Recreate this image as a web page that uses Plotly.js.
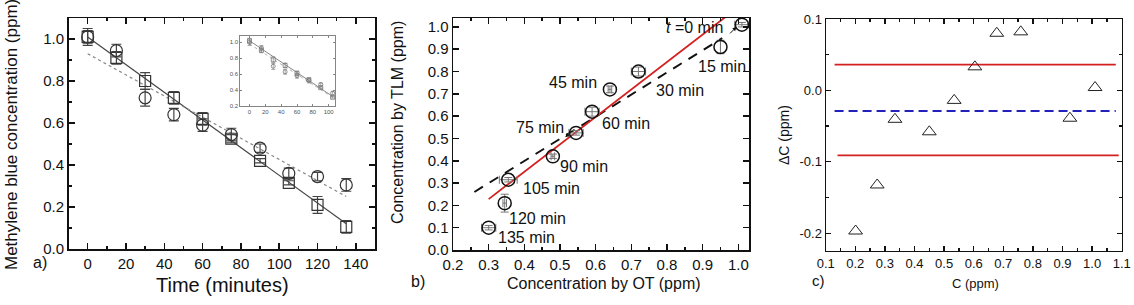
<!DOCTYPE html>
<html>
<head>
<meta charset="utf-8">
<script src="https://cdn.plot.ly/plotly-3.0.1.min.js"></script>
<style>html,body{margin:0;padding:0;background:#fff;}#chart{width:1134px;height:305px;}</style>
</head>
<body>
<div id="chart"></div>
<script>
// ---------- Panel a: concentration vs time ----------
const timeMin = [0, 15, 30, 45, 60, 75, 90, 105, 120, 135];
const otConc  = [1.01, 0.945, 0.72, 0.64, 0.59, 0.545, 0.48, 0.36, 0.345, 0.305];
const otErr   = [0.04, 0.03, 0.04, 0.03, 0.03, 0.03, 0.02, 0.025, 0.02, 0.03];
const tlmConc = [1.01, 0.91, 0.80, 0.72, 0.62, 0.525, 0.42, 0.315, 0.21, 0.105];
const tlmErr  = [0.03, 0.03, 0.04, 0.03, 0.03, 0.02, 0.01, 0.01, 0.04, 0.03];
const fitTime = [0, 135];
const tlmFit  = [1.01, 0.12];
const otFit   = [0.93, 0.25];

// inset of panel a
const insetTime = [0, 15, 30, 45, 60, 75, 90, 105];
const insetOt   = [1.0, 0.93, 0.70, 0.63, 0.58, 0.52, 0.47, 0.36];
const insetTlm  = [1.02, 0.90, 0.78, 0.71, 0.61, 0.53, 0.43, 0.31];
const insetFitT = [0, 105];
const insetFitA = [1.02, 0.32];
const insetFitB = [0.98, 0.31];

// ---------- Panel b: TLM vs OT ----------
const bOt      = [1.01, 0.95, 0.72, 0.64, 0.59, 0.545, 0.48, 0.355, 0.345, 0.30];
const bOtErr   = [0.02, 0.0, 0.02, 0.005, 0.02, 0.02, 0.005, 0.025, 0.005, 0.02];
const bTlm     = [1.01, 0.91, 0.80, 0.72, 0.62, 0.525, 0.42, 0.315, 0.21, 0.10];
const bTlmErr  = [0.01, 0.03, 0.02, 0.015, 0.02, 0.01, 0.01, 0.01, 0.04, 0.01];
const bLabels  = ["<i>t</i> =0 min", "15 min", "30 min", "45 min", "60 min", "75 min", "90 min", "105 min", "120 min", "135 min"];
const bLabelX  = [0.878, 0.955, 0.836, 0.536, 0.685, 0.445, 0.568, 0.476, 0.436, 0.405];
const bLabelY  = [0.996, 0.822, 0.714, 0.75, 0.565, 0.548, 0.374, 0.277, 0.139, 0.054];
const redFitX  = [0.30, 0.975];
const redFitY  = [0.228, 1.058];
const dashX    = [0.26, 0.955];
const dashY    = [0.26, 0.95];

// ---------- Panel c: difference plot ----------
const cC     = [0.201, 0.274, 0.334, 0.45, 0.534, 0.604, 0.678, 0.759, 0.925, 1.01];
const cDelta = [-0.197, -0.1325, -0.0405, -0.058, -0.014, 0.033, 0.080, 0.082, -0.039, 0.004];
const upperLoA = 0.036, meanDiff = -0.029, lowerLoA = -0.091;
const upperX = [0.13, 1.08], meanX = [0.13, 1.08], lowerX = [0.14, 1.09];
const cYTicks = [-0.2, -0.1, 0.0, 0.1];
const cYTickText = ["-0.2", "-0.1", "0.0", "0.1"];

const W = 1134, H = 305;
const px = v => v / W, py = v => 1 - v / H;
const FONT = 'Liberation Sans, Arial, sans-serif';

function axis(opts) {
  return Object.assign({
    showline: true, linecolor: '#111', linewidth: 1.5, mirror: 'ticks',
    ticks: 'inside', ticklen: 6, tickwidth: 1.5, tickcolor: '#111',
    showgrid: false, zeroline: false, fixedrange: true,
    tickfont: {family: FONT, size: 15, color: '#111'}
  }, opts);
}

const traces = [
  // panel a
  {x: fitTime, y: tlmFit, xaxis: 'x', yaxis: 'y', mode: 'lines', line: {color: '#444', width: 1.2}, hoverinfo: 'skip'},
  {x: fitTime, y: otFit, xaxis: 'x', yaxis: 'y', mode: 'lines', line: {color: '#888', width: 1.2, dash: 'dot'}, hoverinfo: 'skip'},
  {x: timeMin, y: tlmConc, xaxis: 'x', yaxis: 'y', mode: 'markers',
   marker: {symbol: 'square-open', size: 11, color: '#333', line: {width: 1.2}},
   error_y: {type: 'data', array: tlmErr, visible: true, color: '#444', thickness: 1.2, width: 5}},
  {x: timeMin, y: otConc, xaxis: 'x', yaxis: 'y', mode: 'markers',
   marker: {symbol: 'circle-open', size: 12, color: '#333', line: {width: 1.2}},
   error_y: {type: 'data', array: otErr, visible: true, color: '#444', thickness: 1.2, width: 5}},
  // inset
  {x: insetFitT, y: insetFitA, xaxis: 'x4', yaxis: 'y4', mode: 'lines', line: {color: '#666', width: 0.8}, hoverinfo: 'skip'},
  {x: insetFitT, y: insetFitB, xaxis: 'x4', yaxis: 'y4', mode: 'lines', line: {color: '#999', width: 0.8, dash: 'dot'}, hoverinfo: 'skip'},
  {x: insetTime, y: insetTlm, xaxis: 'x4', yaxis: 'y4', mode: 'markers',
   marker: {symbol: 'square-open', size: 4, color: '#777', line: {width: 0.8}},
   error_y: {type: 'data', array: tlmErr.slice(0, 8), visible: true, color: '#888', thickness: 0.7, width: 2}},
  {x: insetTime, y: insetOt, xaxis: 'x4', yaxis: 'y4', mode: 'markers',
   marker: {symbol: 'circle-open', size: 4, color: '#777', line: {width: 0.8}},
   error_y: {type: 'data', array: otErr.slice(0, 8), visible: true, color: '#888', thickness: 0.7, width: 2}},
  // panel b
  {x: dashX, y: dashY, xaxis: 'x2', yaxis: 'y2', mode: 'lines', line: {color: '#111', width: 2, dash: '10px,8px'}, hoverinfo: 'skip'},
  {x: redFitX, y: redFitY, xaxis: 'x2', yaxis: 'y2', mode: 'lines', line: {color: '#d42020', width: 1.8}, hoverinfo: 'skip'},
  {x: bOt, y: bTlm, xaxis: 'x2', yaxis: 'y2', mode: 'markers',
   marker: {symbol: 'circle-open', size: 13, color: '#111', line: {width: 1.5}},
   error_x: {type: 'data', array: bOtErr, visible: true, color: '#777', thickness: 1, width: 4},
   error_y: {type: 'data', array: bTlmErr, visible: true, color: '#777', thickness: 1, width: 4}},
  // panel c
  {x: upperX, y: [upperLoA, upperLoA], xaxis: 'x3', yaxis: 'y3', mode: 'lines', line: {color: '#d42020', width: 1.8}, hoverinfo: 'skip'},
  {x: lowerX, y: [lowerLoA, lowerLoA], xaxis: 'x3', yaxis: 'y3', mode: 'lines', line: {color: '#d42020', width: 1.8}, hoverinfo: 'skip'},
  {x: meanX, y: [meanDiff, meanDiff], xaxis: 'x3', yaxis: 'y3', mode: 'lines', line: {color: '#2222bb', width: 2, dash: '9px,5px'}, hoverinfo: 'skip'},
  {x: cC, y: cDelta, xaxis: 'x3', yaxis: 'y3', mode: 'markers',
   marker: {symbol: 'triangle-up-open', size: 12, color: '#222', line: {width: 1}}}
];

const annotations = [];
bLabels.forEach((t, i) => {
  annotations.push({xref: 'x2', yref: 'y2', x: bLabelX[i], y: bLabelY[i], text: t, showarrow: false,
    font: {family: FONT, size: 16, color: '#111'}, xanchor: 'center', yanchor: 'middle'});
});
// small arrows in panel b
annotations.push({xref: 'x2', yref: 'y2', x: 0.995, y: 1.0, ax: -8, ay: 8, text: '', showarrow: true,
  arrowhead: 2, arrowsize: 0.8, arrowwidth: 1, arrowcolor: '#111'});
annotations.push({xref: 'x2', yref: 'y2', x: 0.515, y: 0.505, ax: 8, ay: -8, text: '', showarrow: true,
  arrowhead: 2, arrowsize: 0.8, arrowwidth: 1, arrowcolor: '#111'});

// axis titles and panel letters (paper coordinates)
const paperText = [
  {x: 222, y: 285, text: 'Time (minutes)', size: 20},
  {x: 11, y: 135, text: 'Methylene blue concentration (ppm)', size: 17, rot: -90},
  {x: 40, y: 262, text: 'a)', size: 16},
  {x: 604, y: 283, text: 'Concentration by OT (ppm)', size: 16},
  {x: 397, y: 123, text: 'Concentration by TLM (ppm)', size: 16, rot: -90},
  {x: 418, y: 281, text: 'b)', size: 16},
  {x: 975, y: 283, text: 'C (ppm)', size: 13},
  {x: 784, y: 135, text: 'ΔC (ppm)', size: 14, rot: -90},
  {x: 818, y: 280, text: 'c)', size: 15}
];
paperText.forEach(p => {
  annotations.push({xref: 'paper', yref: 'paper', x: px(p.x), y: py(p.y), text: p.text, showarrow: false,
    textangle: p.rot || 0, xanchor: 'center', yanchor: 'middle',
    font: {family: FONT, size: p.size, color: '#111'}});
});

const layout = {
  width: W, height: H, margin: {l: 0, r: 0, t: 0, b: 0},
  paper_bgcolor: '#fff', plot_bgcolor: '#fff', showlegend: false,
  font: {family: FONT, color: '#111'},
  xaxis: axis({domain: [px(68.5), px(375)], range: [-10, 150], tickvals: [0, 20, 40, 60, 80, 100, 120, 140],
    minor: {dtick: 10, ticks: 'inside', ticklen: 3, tickwidth: 1.5, tickcolor: '#111', tick0: 0}, anchor: 'y'}),
  yaxis: axis({domain: [py(249), py(18)], range: [0, 1.1], dtick: 0.2, tickformat: '.1f',
    minor: {dtick: 0.1, ticks: 'inside', ticklen: 3, tickwidth: 1.5, tickcolor: '#111'}, anchor: 'x'}),
  xaxis2: axis({domain: [px(453), px(749)], range: [0.2, 1.03], dtick: 0.1, tick0: 0.2, tickformat: '.1f',
    minor: {dtick: 0.05, ticks: 'inside', ticklen: 3, tickwidth: 1.5, tickcolor: '#111'}, anchor: 'y2'}),
  yaxis2: axis({domain: [py(250), py(18)], range: [0, 1.04], dtick: 0.1, tickformat: '.1f', anchor: 'x2'}),
  xaxis3: axis({domain: [px(825.7), px(1121.7)], range: [0.1, 1.1], dtick: 0.1, tick0: 0.1, tickformat: '.1f',
    tickfont: {family: FONT, size: 13, color: '#111'}, ticklen: 5, tickwidth: 1.2, linewidth: 1.2,
    minor: {dtick: 0.05, ticks: 'inside', ticklen: 3, tickwidth: 1.2, tickcolor: '#111'}, anchor: 'y3'}),
  yaxis3: axis({domain: [py(251), py(19)], range: [-0.225, 0.1], tickmode: 'array', tickvals: cYTicks, ticktext: cYTickText,
    tickfont: {family: FONT, size: 13, color: '#111'}, ticklen: 5, tickwidth: 1.2, linewidth: 1.2,
    minor: {dtick: 0.05, tick0: 0, ticks: 'inside', ticklen: 3, tickwidth: 1.2, tickcolor: '#111'}, anchor: 'x3'}),
  xaxis4: axis({domain: [px(240), px(335)], range: [-12, 108], dtick: 20, tick0: 0, linewidth: 0.8, linecolor: '#666',
    ticklen: 2, tickwidth: 0.8, tickcolor: '#666', tickfont: {family: FONT, size: 6, color: '#555'}, anchor: 'y4'}),
  yaxis4: axis({domain: [py(106), py(36)], range: [0.2, 1.08], dtick: 0.2, tickformat: '.1f', linewidth: 0.8, linecolor: '#666',
    ticklen: 2, tickwidth: 0.8, tickcolor: '#666', tickfont: {family: FONT, size: 6, color: '#555'}, anchor: 'x4'}),
  annotations: annotations
};

Plotly.newPlot('chart', traces, layout, {staticPlot: true, displayModeBar: false});
</script>
</body>
</html>
